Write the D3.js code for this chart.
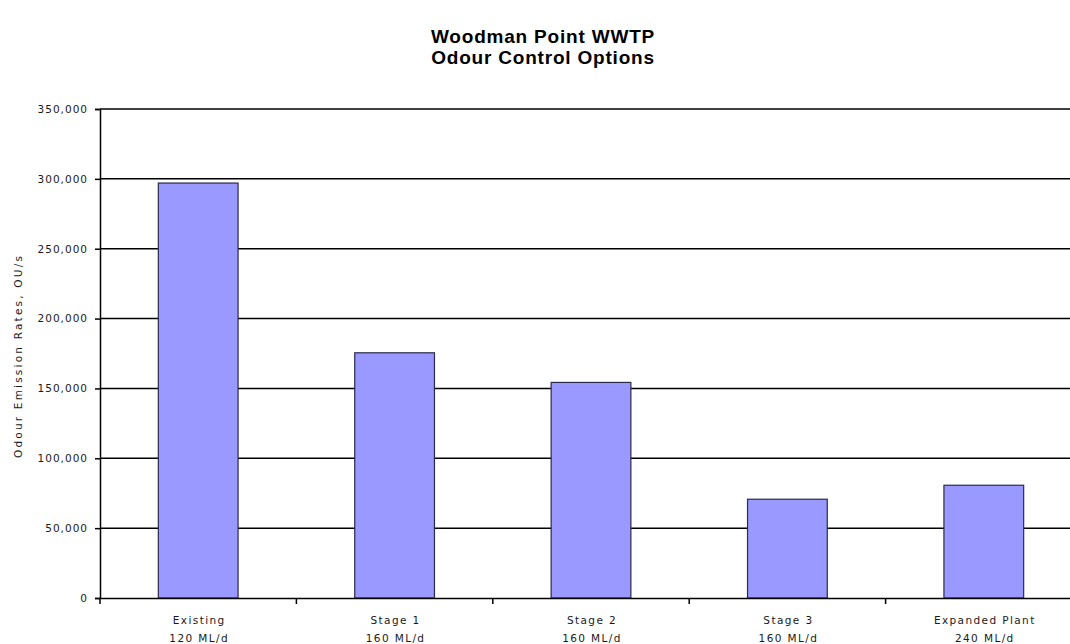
<!DOCTYPE html>
<html>
<head>
<meta charset="utf-8">
<script src="https://cdn.jsdelivr.net/npm/d3@7"></script>
<style>
  body { margin: 0; background: #fff; }
  svg text { font-family: "Liberation Sans", Arial, sans-serif; }
  svg text.small { font-family: "DejaVu Sans", sans-serif; font-size: 10.5px; fill: #1a1a1a; letter-spacing: 1px; }
</style>
</head>
<body>
<svg id="chart" width="1070" height="644"></svg>
<script>
// chart data
const categories = ["Existing", "Stage 1", "Stage 2", "Stage 3", "Expanded Plant"];
const capacities = ["120 ML/d", "160 ML/d", "160 ML/d", "160 ML/d", "240 ML/d"];
const emissions = [297000, 175500, 154300, 70700, 80700];
const yTicks = [0, 50000, 100000, 150000, 200000, 250000, 300000, 350000];

const margin = {left: 100, top: 109, right: -12, bottom: 46};
const W = 1070, H = 644;
const width = W - margin.left - margin.right,
      height = H - margin.top - margin.bottom;

const svg = d3.select("#chart");

// title
svg.append("text")
    .attr("x", 543).attr("y", 43)
    .attr("text-anchor", "middle")
    .style("font-size", "19px").style("font-weight", "bold")
    .style("letter-spacing", "0.8px")
    .text("Woodman Point WWTP");
svg.append("text")
    .attr("x", 543).attr("y", 64)
    .attr("text-anchor", "middle")
    .style("font-size", "19px").style("font-weight", "bold")
    .style("letter-spacing", "0.8px")
    .text("Odour Control Options");

const g = svg.append("g")
    .attr("transform", `translate(${margin.left},${margin.top})`);

const x = d3.scaleBand()
    .domain(categories)
    .range([0, width])
    .paddingInner(0.594)
    .paddingOuter(0.297);
const xTicks = d3.scaleBand().domain(categories).range([0, width]);

const y = d3.scaleLinear()
    .domain([0, 350000])
    .range([height, 0]);

// gridlines
g.selectAll(".grid")
    .data(yTicks.slice(1))
  .enter().append("line")
    .attr("class", "grid")
    .attr("x1", 0).attr("x2", width)
    .attr("y1", d => y(d)).attr("y2", d => y(d))
    .style("stroke", "#000").style("stroke-width", 1.5);

// bars
g.selectAll(".bar")
    .data(emissions)
  .enter().append("rect")
    .attr("class", "bar")
    .attr("x", (d, i) => x(categories[i]))
    .attr("y", d => y(d))
    .attr("width", x.bandwidth())
    .attr("height", d => height - y(d))
    .style("fill", "#9999ff")
    .style("stroke", "#2a2a4a")
    .style("stroke-width", 1.2);

// y axis
const yAxis = g.append("g")
    .call(d3.axisLeft(y).tickValues(yTicks).tickSize(5).tickPadding(7)
      .tickFormat(d3.format(",")));
yAxis.select(".domain").style("stroke-width", 1.5);
yAxis.selectAll("line").style("stroke-width", 1.5);
yAxis.selectAll("text").attr("class", "small").attr("font-size", null);

// x axis
const xAxis = g.append("g")
    .attr("transform", `translate(0,${height})`)
    .call(d3.axisBottom(xTicks).tickSize(0).tickFormat(""));
xAxis.select(".domain").style("stroke-width", 1.5);
xAxis.selectAll(".tick").remove();

g.selectAll(".xtick")
    .data(categories.concat(["_end"]))
  .enter().append("line")
    .attr("class", "xtick")
    .attr("x1", (d, i) => i * xTicks.bandwidth())
    .attr("x2", (d, i) => i * xTicks.bandwidth())
    .attr("y1", height).attr("y2", height + 6)
    .style("stroke", "#000").style("stroke-width", 1.5);

const xLab = g.selectAll(".xlab")
    .data(categories)
  .enter().append("text")
    .attr("class", "xlab small")
    .attr("text-anchor", "middle")
    .style("letter-spacing", "1.4px");
xLab.append("tspan")
    .attr("x", d => xTicks(d) + xTicks.bandwidth() / 2 + 1)
    .attr("y", height + 26)
    .text(d => d);
xLab.append("tspan")
    .attr("x", d => xTicks(d) + xTicks.bandwidth() / 2 + 1)
    .attr("y", height + 44)
    .text((d, i) => capacities[i]);

// y axis title
svg.append("text")
    .attr("class", "small")
    .attr("transform", "translate(22,356) rotate(-90)")
    .attr("text-anchor", "middle")
    .style("letter-spacing", "2.2px")
    .text("Odour Emission Rates, OU/s");
</script>
</body>
</html>
